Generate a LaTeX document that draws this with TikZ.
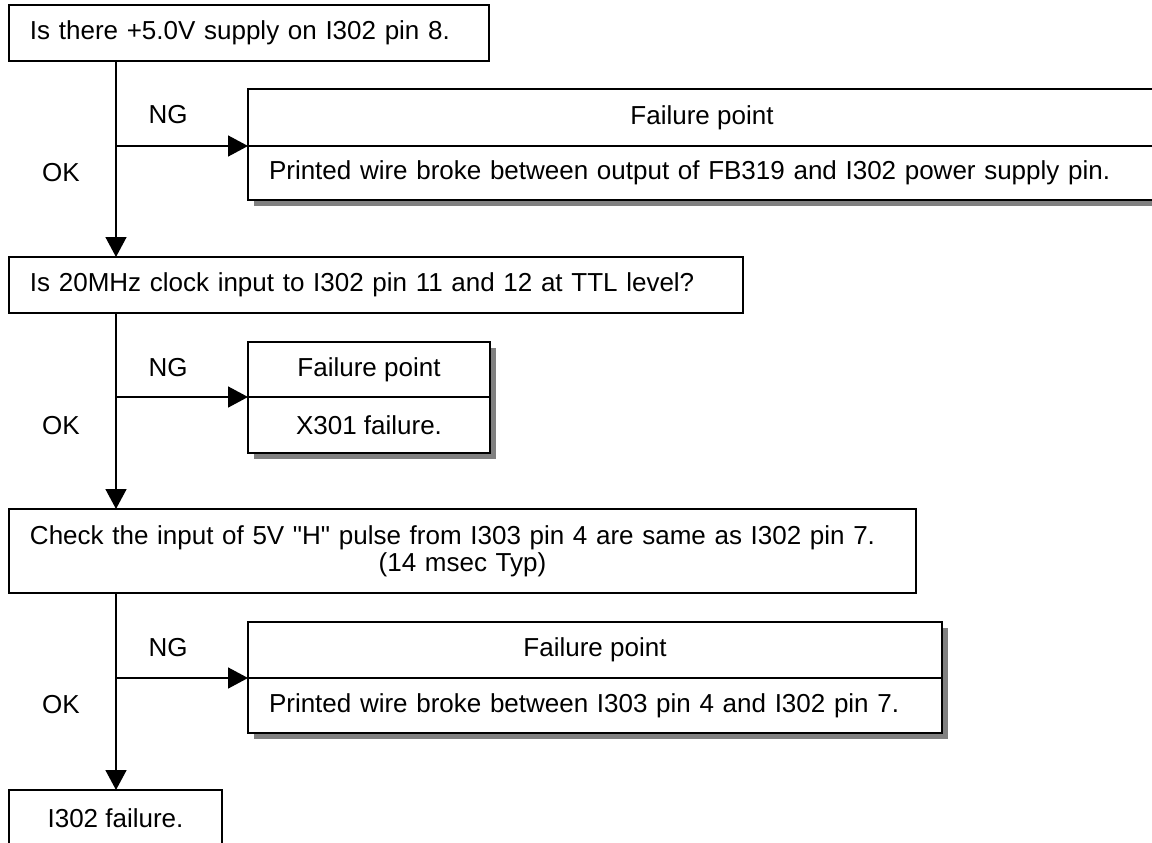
\documentclass[tikz,border=0pt]{standalone}
\usepackage{fontspec}
\setmainfont{Liberation Sans}[Ligatures=TeXOff]
\usepackage{tikz}
\usetikzlibrary{arrows.meta,positioning,shadows}

\begin{document}
\begin{tikzpicture}[
  x=1pt, y=-1pt,
  font=\fontsize{26}{27}\selectfont,
  node distance=0pt,
  qbox/.style={rectangle, draw=black, line width=1.6pt, fill=white, anchor=north west, outer sep=0pt, inner xsep=21pt, inner ysep=0pt, align=left},
  fhead/.style={rectangle, draw=black, line width=1.6pt, fill=white, anchor=north west, outer sep=0pt, inner sep=0pt, align=center,
    drop shadow={shadow xshift=6pt, shadow yshift=-6pt, fill=black!50, opacity=1}},
  fbody/.style={fhead, inner xsep=21pt},
  arrow/.style={-{Triangle[length=20pt, width=21pt]}, line width=1.6pt}
]
\useasboundingbox (0,0) rectangle (1152,843);
% checks
\node[qbox, minimum width=480pt, minimum height=56pt, text width=438pt] (q1) at (9,5) {Is there +5.0V supply on I302 pin 8.};
\node[qbox, minimum width=734pt, minimum height=56pt, text width=692pt] (q2) at (9,257) {Is 20MHz clock input to I302 pin 11 and 12 at TTL level?};
\node[qbox, minimum width=907pt, minimum height=84pt, text width=865pt] (q3) at (9,509) {Check the input of 5V "H" pulse from I303 pin 4 are same as I302 pin 7.\\\makebox[\hsize]{(14 msec Typ)}};
\node[qbox, minimum width=213pt, minimum height=56pt, inner xsep=0pt, align=center] (q4) at (9,790) {I302 failure.};
% failure points
\node[fhead, minimum width=908pt, minimum height=57pt] (f1h) at (248,89) {Failure point};
\node[fbody, below=of f1h, minimum width=908pt, minimum height=54pt, text width=866pt, align=left] (f1b) {Printed wire broke between output of FB319 and I302 power supply pin.};
\node[fhead, minimum width=242pt, minimum height=55pt] (f2h) at (248,342) {Failure point};
\node[fbody, below=of f2h, minimum width=242pt, minimum height=56pt] (f2b) {X301 failure.};
\node[fhead, minimum width=694pt, minimum height=56pt] (f3h) at (248,622) {Failure point};
\node[fbody, below=of f3h, minimum width=694pt, minimum height=55pt, text width=652pt, align=left] (f3b) {Printed wire broke between I303 pin 4 and I302 pin 7.};
% labels
\node (ng1) at (168,115) {NG};
\node (ok1) at (61,173) {OK};
\node (ng2) at (168,368) {NG};
\node (ok2) at (61,426) {OK};
\node (ng3) at (168,648) {NG};
\node (ok3) at (61,705) {OK};
% spine
\coordinate (s1) at ([xshift=107pt]q1.south west);
\coordinate (s2) at ([xshift=107pt]q2.south west);
\coordinate (s3) at ([xshift=107pt]q3.south west);
\draw[arrow] (s1) -- (s1 |- q2.north);
\draw[arrow] (s2) -- (s2 |- q3.north);
\draw[arrow] (s3) -- (s3 |- q4.north);
\draw[arrow] (s1 |- f1h.south west) -- (f1h.south west);
\draw[arrow] (s2 |- f2h.south west) -- (f2h.south west);
\draw[arrow] (s3 |- f3h.south west) -- (f3h.south west);
\end{tikzpicture}
\end{document}
